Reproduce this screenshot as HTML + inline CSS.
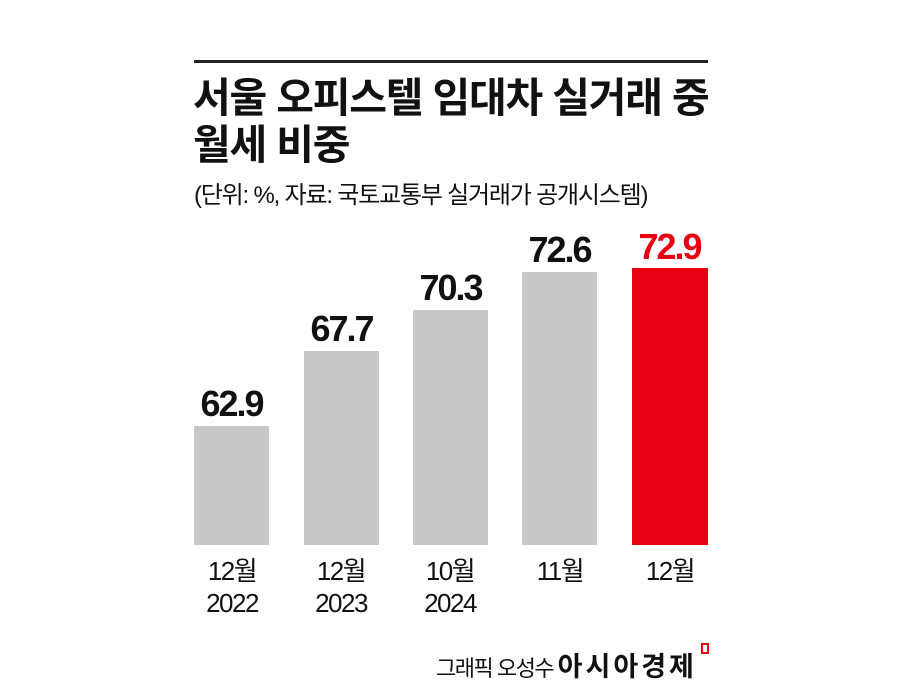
<!DOCTYPE html>
<html><head><meta charset="utf-8"><style>
body{margin:0;width:900px;height:689px;background:#fff;position:relative;overflow:hidden;font-family:"Liberation Sans","Noto Sans CJK KR",sans-serif;color:#111}
.a{position:absolute;white-space:nowrap}
.bar{position:absolute;background:#c8c8c8;width:75px}
.v{position:absolute;width:75px;text-align:center;font-size:36px;letter-spacing:-2px;font-weight:bold}
.x{position:absolute;width:110px;text-align:center;font-size:26px;line-height:32px;letter-spacing:-1.5px}
</style></head><body>
<div class="a" style="left:194px;top:60px;width:514px;height:3px;background:#222"></div>
<div class="a" style="left:193px;top:75px;font-size:41px;font-weight:bold;line-height:47px;letter-spacing:-1.2px">서울 오피스텔 임대차 실거래 중<br>월세 비중</div>
<div class="a" style="left:194px;top:175px;font-size:24px;letter-spacing:-1.2px">(단위: %, 자료: 국토교통부 실거래가 공개시스템)</div>

<div class="bar" style="left:194px;top:426px;height:119px"></div>
<div class="bar" style="left:304px;top:351px;height:194px"></div>
<div class="bar" style="left:413px;top:310px;height:235px"></div>
<div class="bar" style="left:522px;top:272px;height:273px"></div>
<div class="bar" style="left:632px;top:268px;height:277px;width:76px;background:#e60012"></div>

<div class="v" style="left:194px;top:383px">62.9</div>
<div class="v" style="left:304px;top:308px">67.7</div>
<div class="v" style="left:413px;top:267px">70.3</div>
<div class="v" style="left:522px;top:229px">72.6</div>
<div class="v" style="left:632px;top:226px;color:#e60012">72.9</div>

<div class="x" style="left:177px;top:555px">12월<br>2022</div>
<div class="x" style="left:286px;top:555px">12월<br>2023</div>
<div class="x" style="left:395px;top:555px">10월<br>2024</div>
<div class="x" style="left:505px;top:555px">11월</div>
<div class="x" style="left:615px;top:555px">12월</div>

<div class="a" style="left:436px;top:645px;font-size:22px;letter-spacing:-1.5px">그래픽 오성수 <b style="font-size:27px;letter-spacing:3px">아시아경제</b></div>
<div class="a" style="left:701px;top:643px;width:4px;height:7px;border:2px solid #e60012"></div>
</body></html>
